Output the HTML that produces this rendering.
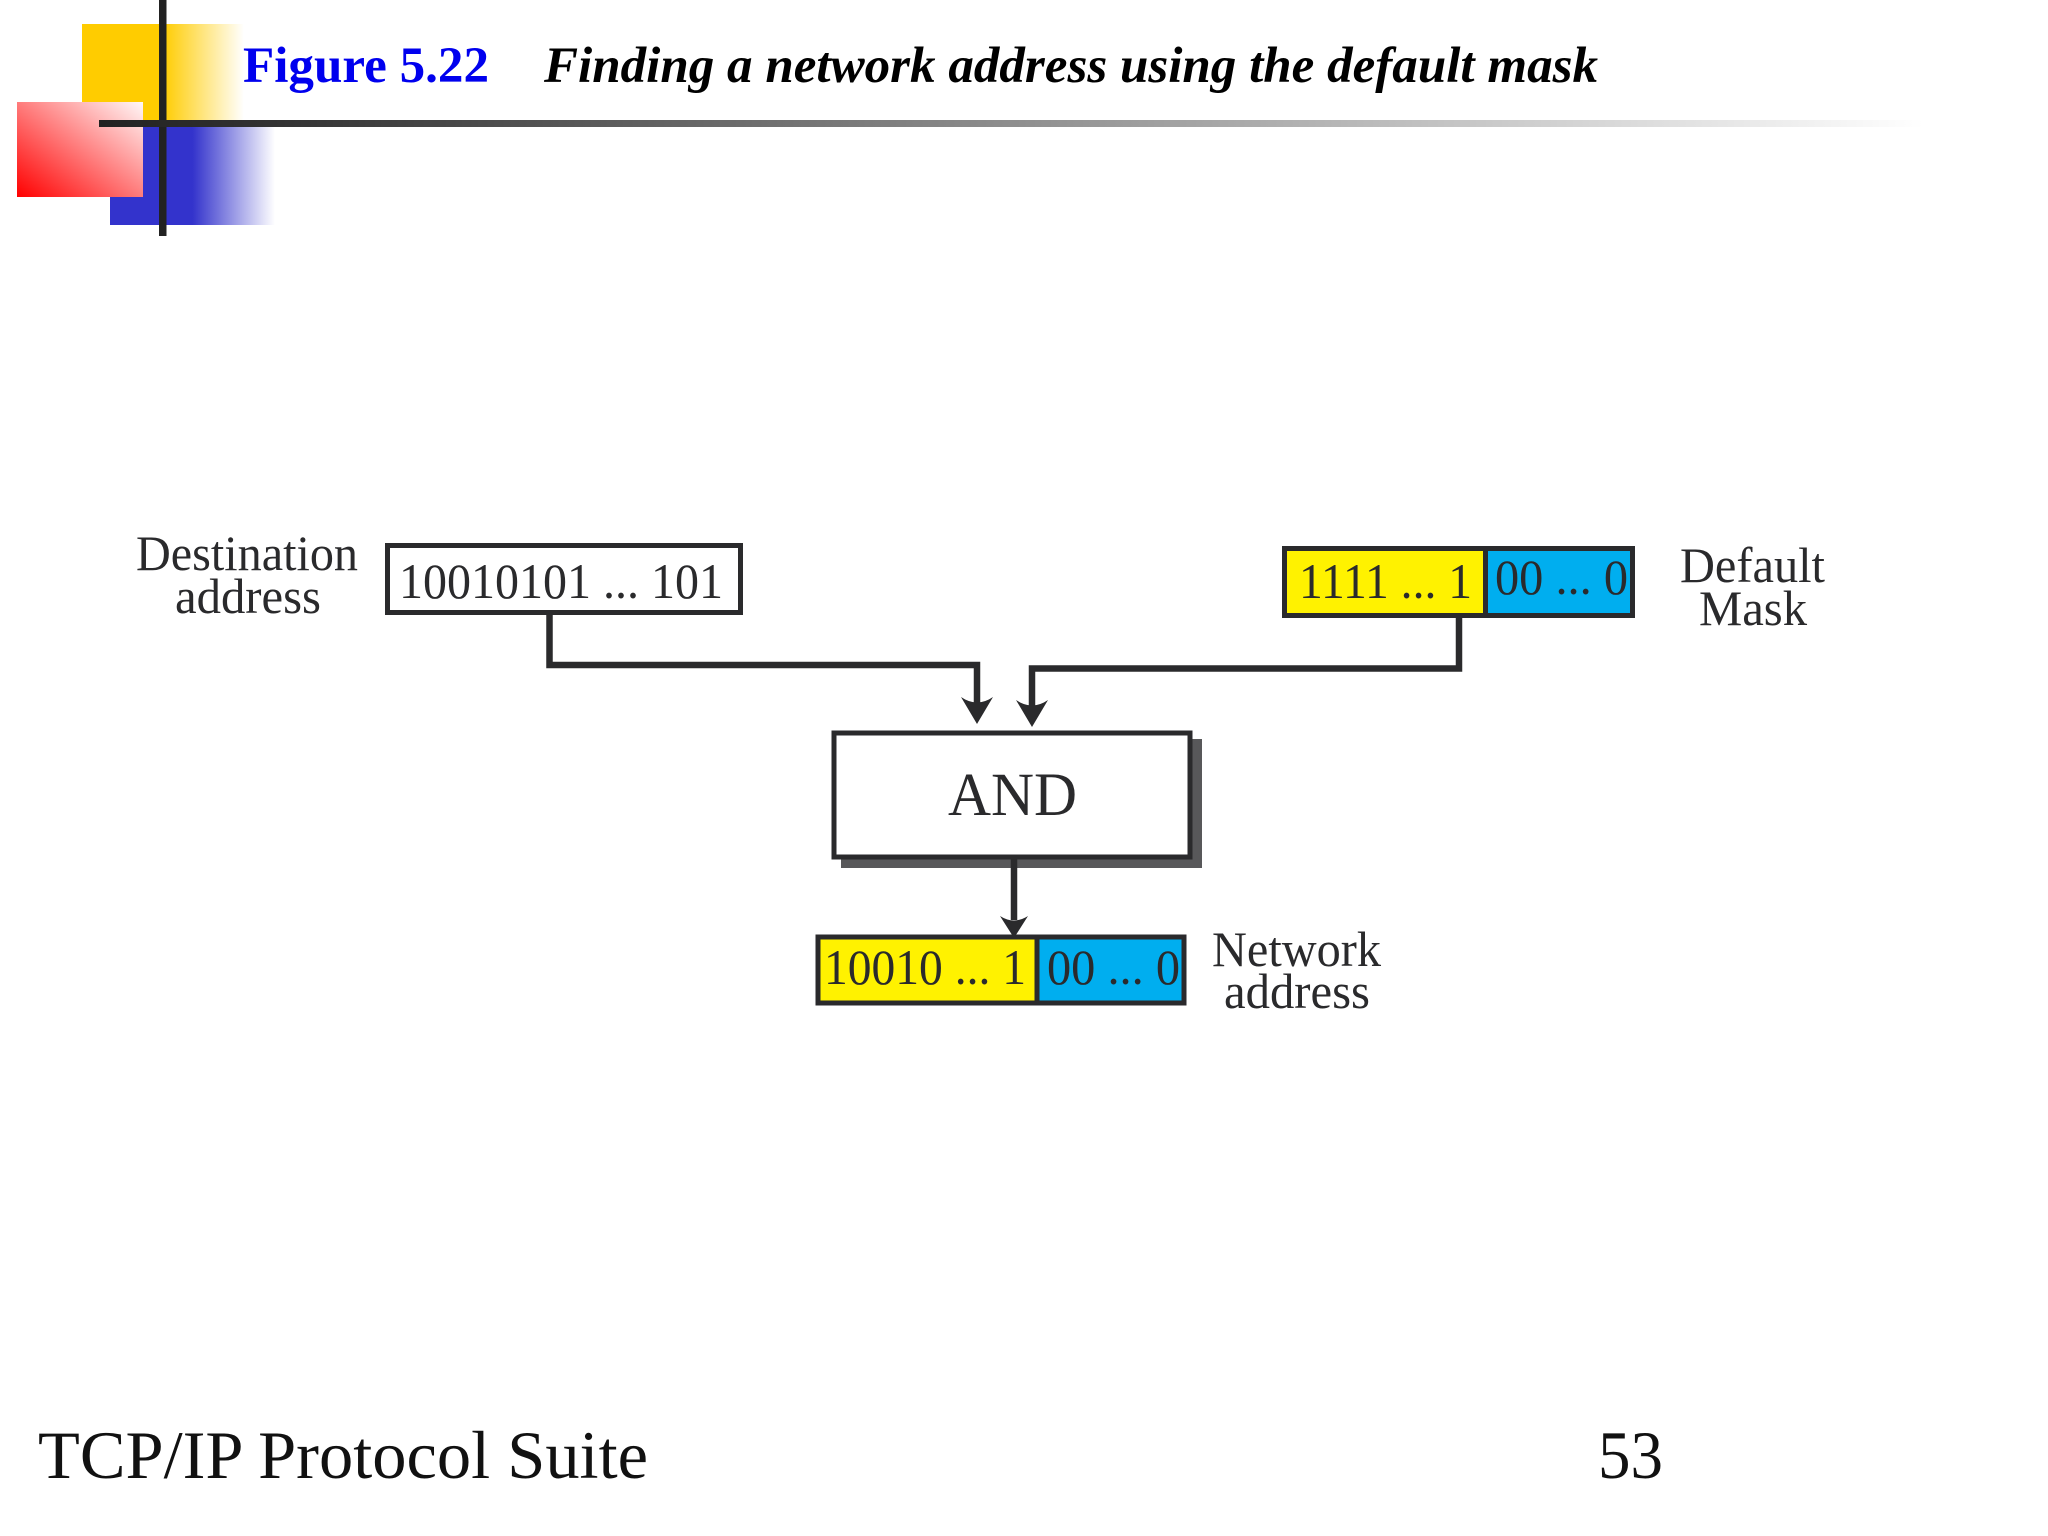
<!DOCTYPE html>
<html><head><meta charset="utf-8"><style>
html,body{margin:0;padding:0;background:#fff;width:2048px;height:1536px;overflow:hidden}
svg{display:block}
text{font-family:"Liberation Serif",serif;fill:#2a2a2c}
</style></head><body>
<svg width="2048" height="1536" viewBox="0 0 2048 1536" xmlns="http://www.w3.org/2000/svg">
<defs>
<linearGradient id="y" x1="0" x2="1" y1="0" y2="0"><stop offset="0" stop-color="#FFCC00"/><stop offset=".5" stop-color="#FFCC00"/><stop offset="1" stop-color="#FFCC00" stop-opacity="0"/></linearGradient>
<linearGradient id="b" x1="0" x2="1" y1="0" y2="0"><stop offset="0" stop-color="#3333CC"/><stop offset=".5" stop-color="#3333CC"/><stop offset="1" stop-color="#3333CC" stop-opacity="0"/></linearGradient>
<linearGradient id="r" x1="0" x2="1" y1="1" y2="0"><stop offset="0" stop-color="#FF0000"/><stop offset="1" stop-color="#FFF8F8"/></linearGradient>
<linearGradient id="h" x1="0" x2="1" y1="0" y2="0"><stop offset="0" stop-color="#222"/><stop offset=".1" stop-color="#333"/><stop offset="1" stop-color="#333" stop-opacity="0"/></linearGradient>
</defs>
<rect width="2048" height="1536" fill="#fff"/>
<rect x="82" y="24" width="162" height="100" fill="url(#y)"/>
<rect x="110" y="124" width="165" height="101" fill="url(#b)"/>
<rect x="17" y="102" width="126" height="95" fill="url(#r)"/>
<rect x="159" y="0" width="7.5" height="236" fill="#222"/>
<rect x="99" y="120" width="1825" height="7" fill="url(#h)"/>

<text x="243" y="82" font-size="51" font-weight="bold" style="fill:#0000ee" textLength="246" lengthAdjust="spacingAndGlyphs">Figure 5.22</text>
<text x="544" y="82" font-size="51" font-weight="bold" font-style="italic" style="fill:#000" textLength="1054" lengthAdjust="spacingAndGlyphs">Finding a network address using the default mask</text>

<!-- Destination -->
<text x="136" y="570" font-size="50" textLength="222" lengthAdjust="spacingAndGlyphs">Destination</text>
<text x="175" y="613" font-size="50" textLength="146" lengthAdjust="spacingAndGlyphs">address</text>
<rect x="387.5" y="545.5" width="353" height="67" fill="#fff" stroke="#2a2a2c" stroke-width="5"/>
<text x="399" y="598" font-size="50" textLength="324" lengthAdjust="spacingAndGlyphs">10010101 ... 101</text>

<!-- Default mask -->
<rect x="1284.5" y="548.5" width="201" height="67" fill="#fff200" stroke="#2a2a2c" stroke-width="5"/>
<rect x="1485.5" y="548.5" width="147" height="67" fill="#00aeef" stroke="#2a2a2c" stroke-width="5"/>
<text x="1299" y="598" font-size="50" textLength="173" lengthAdjust="spacingAndGlyphs">1111 ... 1</text>
<text x="1495" y="594" font-size="50" textLength="133" lengthAdjust="spacingAndGlyphs">00 ... 0</text>
<text x="1680" y="582" font-size="50" textLength="145" lengthAdjust="spacingAndGlyphs">Default</text>
<text x="1699" y="625" font-size="50" textLength="108" lengthAdjust="spacingAndGlyphs">Mask</text>

<!-- Connectors -->
<path d="M549.5 614V665H977V705" fill="none" stroke="#2a2a2c" stroke-width="6.5"/>
<path d="M977 724L961 697Q977 708 993 697Z" fill="#2a2a2c"/>
<path d="M1459 617V668.5H1032V708" fill="none" stroke="#2a2a2c" stroke-width="6.5"/>
<path d="M1032 727L1016 700Q1032 711 1048 700Z" fill="#2a2a2c"/>

<!-- AND -->
<rect x="841" y="739" width="361" height="129" fill="#58585a"/>
<rect x="834" y="733" width="356" height="124" fill="#fff" stroke="#2a2a2c" stroke-width="5"/>
<text x="948" y="815" font-size="61" textLength="129" lengthAdjust="spacingAndGlyphs">AND</text>
<path d="M1014 859V920" fill="none" stroke="#2a2a2c" stroke-width="6.5"/>

<!-- Network -->
<rect x="818" y="937" width="219" height="66" fill="#fff200" stroke="#2a2a2c" stroke-width="5"/>
<rect x="1037" y="937" width="147" height="66" fill="#00aeef" stroke="#2a2a2c" stroke-width="5"/>
<path d="M1014 938L1000 916Q1014 925 1028 916Z" fill="#2a2a2c"/>
<text x="824" y="984" font-size="50" textLength="202" lengthAdjust="spacingAndGlyphs">10010 ... 1</text>
<text x="1047" y="984" font-size="50" textLength="133" lengthAdjust="spacingAndGlyphs">00 ... 0</text>
<text x="1212" y="966" font-size="50" textLength="169" lengthAdjust="spacingAndGlyphs">Network</text>
<text x="1224" y="1008" font-size="50" textLength="146" lengthAdjust="spacingAndGlyphs">address</text>

<!-- Footer -->
<text x="38" y="1478" font-size="68" style="fill:#111" textLength="610" lengthAdjust="spacingAndGlyphs">TCP/IP Protocol Suite</text>
<text x="1598" y="1478" font-size="68" style="fill:#111" textLength="65" lengthAdjust="spacingAndGlyphs">53</text>
</svg>
</body></html>
